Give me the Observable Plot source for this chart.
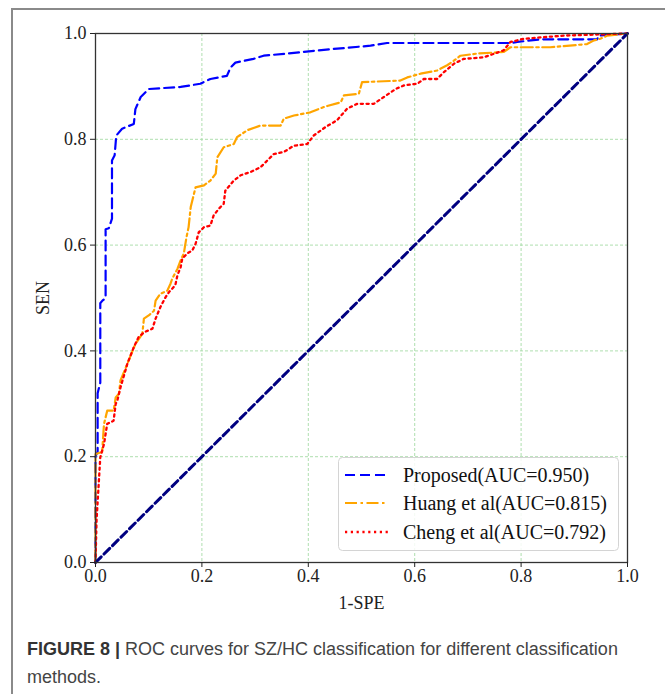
<!DOCTYPE html>
<html><head><meta charset="utf-8">
<script src="https://cdn.jsdelivr.net/npm/d3@7"></script>
<script src="https://cdn.jsdelivr.net/npm/@observablehq/plot@0.6"></script>
<style>
body{margin:0;background:#fff;}
#wrap{position:relative;width:665px;height:694px;overflow:hidden;background:#fff;}
#frame{position:absolute;left:11px;top:8px;width:700px;height:720px;border-top:2px solid #8a8a8a;border-left:2px solid #8a8a8a;}
#chart{position:absolute;left:0;top:0;}
#legend{position:absolute;left:338px;top:457px;}
.cap{position:absolute;left:27px;white-space:nowrap;font-family:"Liberation Sans",Arial,sans-serif;font-size:18px;line-height:28px;color:#444;}
#cap1{top:635px;}
#cap2{top:663px;}
.fig{font-weight:bold;color:#333;margin-right:5px;}
</style></head>
<body>
<div id="wrap">
  <div id="frame"></div>
  <div id="chart"></div>
  <div id="legend"></div>
  <div class="cap" id="cap1"><span class="fig">FIGURE 8 |</span><span>ROC curves for SZ/HC classification for different classification</span></div>
  <div class="cap" id="cap2"><span>methods.</span></div>
</div>
<script>
// Tick values
const xTicks = [0, 0.2, 0.4, 0.6, 0.8, 1.0];
const yTicks = [0, 0.2, 0.4, 0.6, 0.8, 1.0];

// Series names
const seriesNames = ["Proposed(AUC=0.950)", "Huang et al(AUC=0.815)", "Cheng et al(AUC=0.792)"];

// Proposed (blue, dashed)
const propX = [0,0,0.004,0.004,0.009,0.009,0.013,0.019,0.019,0.025,0.031,0.031,0.036,0.039,0.05,0.072,0.075,0.085,0.1,0.16,0.197,0.216,0.247,0.254,0.263,0.297,0.316,0.36,0.417,0.517,0.548,0.78,0.793,0.836,0.943,0.946,1];
const propY = [0,0.2,0.21,0.32,0.34,0.49,0.495,0.5,0.63,0.632,0.65,0.76,0.77,0.807,0.82,0.829,0.857,0.88,0.895,0.899,0.905,0.914,0.92,0.936,0.945,0.952,0.958,0.962,0.968,0.977,0.982,0.982,0.984,0.989,0.989,0.996,1];

// Huang et al (orange, dash-dot)
const huangX = [0,0,0.0125,0.016,0.022,0.034,0.038,0.044,0.047,0.056,0.066,0.075,0.088,0.091,0.1,0.11,0.113,0.122,0.135,0.141,0.144,0.154,0.16,0.166,0.171,0.175,0.179,0.188,0.204,0.216,0.226,0.229,0.241,0.26,0.266,0.285,0.31,0.348,0.354,0.373,0.404,0.429,0.461,0.467,0.495,0.501,0.573,0.586,0.611,0.642,0.661,0.674,0.686,0.717,0.767,0.78,0.855,0.924,0.937,0.949,0.962,1];
const huangY = [0,0.205,0.209,0.262,0.287,0.287,0.312,0.319,0.344,0.366,0.391,0.413,0.432,0.461,0.467,0.476,0.495,0.508,0.514,0.527,0.536,0.555,0.571,0.584,0.615,0.634,0.672,0.709,0.713,0.722,0.735,0.766,0.785,0.791,0.804,0.817,0.826,0.826,0.839,0.845,0.851,0.861,0.87,0.883,0.886,0.908,0.911,0.917,0.924,0.93,0.94,0.949,0.958,0.962,0.965,0.974,0.974,0.98,0.987,0.99,0.996,1];

// Cheng et al (red, dotted)
const chengX = [0,0.002,0.009,0.016,0.022,0.034,0.038,0.041,0.047,0.06,0.072,0.081,0.091,0.107,0.113,0.122,0.132,0.138,0.15,0.154,0.16,0.163,0.172,0.182,0.188,0.194,0.204,0.216,0.222,0.232,0.241,0.244,0.26,0.273,0.291,0.31,0.323,0.335,0.354,0.373,0.398,0.41,0.432,0.454,0.473,0.492,0.523,0.542,0.564,0.58,0.605,0.617,0.642,0.655,0.674,0.692,0.73,0.767,0.78,0.805,0.88,1];
const chengY = [0,0.08,0.199,0.224,0.262,0.268,0.3,0.306,0.331,0.376,0.407,0.426,0.435,0.442,0.461,0.483,0.502,0.511,0.524,0.543,0.558,0.574,0.584,0.59,0.602,0.624,0.634,0.637,0.656,0.669,0.678,0.703,0.722,0.732,0.738,0.747,0.76,0.772,0.776,0.788,0.791,0.807,0.823,0.836,0.858,0.867,0.867,0.88,0.895,0.902,0.905,0.914,0.914,0.927,0.943,0.952,0.955,0.968,0.984,0.99,0.996,1];

// Chance diagonal
const diagX = [0, 1];
const diagY = [0, 1];

const colors = ["#0000ff", "#ffa500", "#ff0000"];
const dashes = ["10,5", "12,3.5,2.5,3.5", "2.2,3.6"];

const toRows = (xs, ys) => xs.map((x, i) => ({x, y: ys[i]}));
const series = [toRows(propX, propY), toRows(huangX, huangY), toRows(chengX, chengY)];

const serif = "'Liberation Serif','Times New Roman',serif";

const chart = Plot.plot({
  width: 665,
  height: 620,
  marginLeft: 95,
  marginRight: 38,
  marginTop: 33,
  marginBottom: 58,
  style: {fontFamily: serif, fontSize: "18px", color: "#222", background: "transparent", overflow: "visible"},
  x: {domain: [0, 1]},
  y: {domain: [0, 1]},
  marks: [
    Plot.gridX(xTicks, {stroke: "#a6dca6", strokeOpacity: 0.9, strokeDasharray: "3,2"}),
    Plot.gridY(yTicks, {stroke: "#a6dca6", strokeOpacity: 0.9, strokeDasharray: "3,2"}),
    ...series.map((d, i) => Plot.line(d, {x: "x", y: "y", stroke: colors[i], strokeWidth: i === 2 ? 2.3 : 2.2, strokeDasharray: dashes[i]})),
    Plot.line(toRows(diagX, diagY), {x: "x", y: "y", stroke: "#000080", strokeWidth: 3, strokeDasharray: "8,4"}),
    Plot.frame({stroke: "#333", strokeWidth: 1.3}),
    Plot.axisX(xTicks, {tickFormat: d => d.toFixed(1), tickSize: 5, tickPadding: 2, label: "1-SPE", labelAnchor: "center", labelArrow: "none", labelOffset: 46, fontSize: 18}),
    Plot.axisY(yTicks, {tickFormat: d => d.toFixed(1), tickSize: 5, tickPadding: 4, label: "SEN", labelAnchor: "center", labelArrow: "none", labelOffset: 59, fontSize: 18})
  ]
});
document.getElementById("chart").appendChild(chart);

// Legend
const lw = 281, lh = 94;
const lg = d3.select("#legend").append("svg").attr("width", lw).attr("height", lh);
lg.append("rect").attr("x", 0.5).attr("y", 0.5).attr("width", lw - 1).attr("height", lh - 1)
  .attr("rx", 4).attr("fill", "#fff").attr("fill-opacity", 0.85).attr("stroke", "#d4d4d4");
const rowY = [18, 46, 75];
seriesNames.forEach((name, i) => {
  lg.append("line").attr("x1", 7).attr("x2", 50).attr("y1", rowY[i]).attr("y2", rowY[i])
    .attr("stroke", colors[i]).attr("stroke-width", i === 2 ? 2.3 : 2.2).attr("stroke-dasharray", dashes[i]);
  lg.append("text").attr("x", 65).attr("y", rowY[i]).attr("dy", "0.35em")
    .attr("font-family", serif).attr("font-size", 20).attr("fill", "#111").text(name);
});
</script>
</body></html>
